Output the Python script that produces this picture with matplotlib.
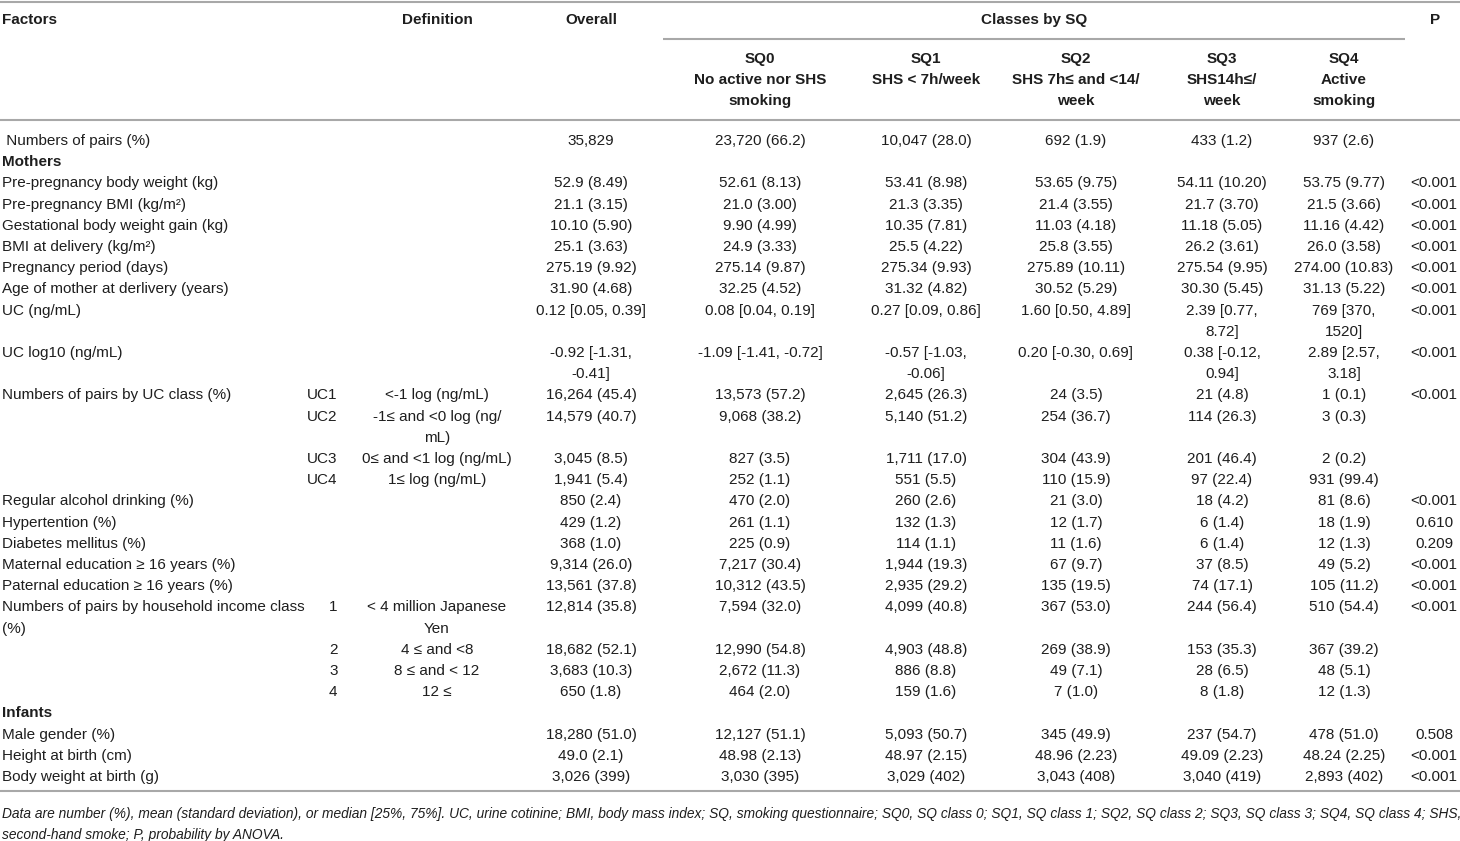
import matplotlib
matplotlib.use("Agg")
import matplotlib.pyplot as plt
from matplotlib import font_manager

# ---------------- data ----------------
header_top = ["Factors", "Definition", "Overall", "Classes by SQ", "P"]
sq_headers = ["SQ0\nNo active nor SHS\nsmoking", "SQ1\nSHS < 7h/week\n",
              "SQ2\nSHS 7h\u2264 and <14/\nweek", "SQ3\nSHS14h\u2264/\nweek",
              "SQ4\nActive\nsmoking"]

factors = [" Numbers of pairs (%)", "Mothers", "Pre-pregnancy body weight (kg)",
           "Pre-pregnancy BMI (kg/m\u00b2)", "Gestational body weight gain (kg)",
           "BMI at delivery (kg/m\u00b2)", "Pregnancy period (days)",
           "Age of mother at derlivery (years)", "UC (ng/mL)", "UC log10 (ng/mL)",
           "Numbers of pairs by UC class (%)", "", "", "",
           "Regular alcohol drinking (%)", "Hypertention (%)", "Diabetes mellitus (%)",
           "Maternal education \u2265 16 years (%)", "Paternal education \u2265 16 years (%)",
           "Numbers of pairs by household income class\n(%)", "", "", "",
           "Infants", "Male gender (%)", "Height at birth (cm)", "Body weight at birth (g)"]
section_rows = ["Mothers", "Infants"]

index_labels = ["", "", "", "", "", "", "", "", "", "",
                "UC1", "UC2", "UC3", "UC4", "", "", "", "", "",
                "1", "2", "3", "4", "", "", "", ""]
definitions = ["", "", "", "", "", "", "", "", "", "",
               "<-1 log (ng/mL)", "-1\u2264 and <0 log (ng/\nmL)", "0\u2264 and <1 log (ng/mL)",
               "1\u2264 log (ng/mL)", "", "", "", "", "",
               "< 4 million Japanese\nYen", "4 \u2264 and <8", "8 \u2264 and < 12", "12 \u2264",
               "", "", "", ""]
overall = ["35,829", "", "52.9 (8.49)", "21.1 (3.15)", "10.10 (5.90)", "25.1 (3.63)",
           "275.19 (9.92)", "31.90 (4.68)", "0.12 [0.05, 0.39]", "-0.92 [-1.31,\n-0.41]",
           "16,264 (45.4)", "14,579 (40.7)", "3,045 (8.5)", "1,941 (5.4)",
           "850 (2.4)", "429 (1.2)", "368 (1.0)", "9,314 (26.0)", "13,561 (37.8)",
           "12,814 (35.8)", "18,682 (52.1)", "3,683 (10.3)", "650 (1.8)",
           "", "18,280 (51.0)", "49.0 (2.1)", "3,026 (399)"]
sq0 = ["23,720 (66.2)", "", "52.61 (8.13)", "21.0 (3.00)", "9.90 (4.99)", "24.9 (3.33)",
       "275.14 (9.87)", "32.25 (4.52)", "0.08 [0.04, 0.19]", "-1.09 [-1.41, -0.72]",
       "13,573 (57.2)", "9,068 (38.2)", "827 (3.5)", "252 (1.1)",
       "470 (2.0)", "261 (1.1)", "225 (0.9)", "7,217 (30.4)", "10,312 (43.5)",
       "7,594 (32.0)", "12,990 (54.8)", "2,672 (11.3)", "464 (2.0)",
       "", "12,127 (51.1)", "48.98 (2.13)", "3,030 (395)"]
sq1 = ["10,047 (28.0)", "", "53.41 (8.98)", "21.3 (3.35)", "10.35 (7.81)", "25.5 (4.22)",
       "275.34 (9.93)", "31.32 (4.82)", "0.27 [0.09, 0.86]", "-0.57 [-1.03,\n-0.06]",
       "2,645 (26.3)", "5,140 (51.2)", "1,711 (17.0)", "551 (5.5)",
       "260 (2.6)", "132 (1.3)", "114 (1.1)", "1,944 (19.3)", "2,935 (29.2)",
       "4,099 (40.8)", "4,903 (48.8)", "886 (8.8)", "159 (1.6)",
       "", "5,093 (50.7)", "48.97 (2.15)", "3,029 (402)"]
sq2 = ["692 (1.9)", "", "53.65 (9.75)", "21.4 (3.55)", "11.03 (4.18)", "25.8 (3.55)",
       "275.89 (10.11)", "30.52 (5.29)", "1.60 [0.50, 4.89]", "0.20 [-0.30, 0.69]",
       "24 (3.5)", "254 (36.7)", "304 (43.9)", "110 (15.9)",
       "21 (3.0)", "12 (1.7)", "11 (1.6)", "67 (9.7)", "135 (19.5)",
       "367 (53.0)", "269 (38.9)", "49 (7.1)", "7 (1.0)",
       "", "345 (49.9)", "48.96 (2.23)", "3,043 (408)"]
sq3 = ["433 (1.2)", "", "54.11 (10.20)", "21.7 (3.70)", "11.18 (5.05)", "26.2 (3.61)",
       "275.54 (9.95)", "30.30 (5.45)", "2.39 [0.77,\n8.72]", "0.38 [-0.12,\n0.94]",
       "21 (4.8)", "114 (26.3)", "201 (46.4)", "97 (22.4)",
       "18 (4.2)", "6 (1.4)", "6 (1.4)", "37 (8.5)", "74 (17.1)",
       "244 (56.4)", "153 (35.3)", "28 (6.5)", "8 (1.8)",
       "", "237 (54.7)", "49.09 (2.23)", "3,040 (419)"]
sq4 = ["937 (2.6)", "", "53.75 (9.77)", "21.5 (3.66)", "11.16 (4.42)", "26.0 (3.58)",
       "274.00 (10.83)", "31.13 (5.22)", "769 [370,\n1520]", "2.89 [2.57,\n3.18]",
       "1 (0.1)", "3 (0.3)", "2 (0.2)", "931 (99.4)",
       "81 (8.6)", "18 (1.9)", "12 (1.3)", "49 (5.2)", "105 (11.2)",
       "510 (54.4)", "367 (39.2)", "48 (5.1)", "12 (1.3)",
       "", "478 (51.0)", "48.24 (2.25)", "2,893 (402)"]
p_values = ["", "", "<0.001", "<0.001", "<0.001", "<0.001", "<0.001", "<0.001",
            "<0.001", "<0.001", "<0.001", "", "", "", "<0.001", "0.610", "0.209",
            "<0.001", "<0.001", "<0.001", "", "", "", "", "0.508", "<0.001", "<0.001"]

footnote = ["Data are number (%), mean (standard deviation), or median [25%, 75%]. UC, urine cotinine; "
            "BMI, body mass index; SQ, smoking questionnaire; SQ0, SQ class 0; SQ1, SQ class 1; "
            "SQ2, SQ class 2; SQ3, SQ class 3; SQ4, SQ class 4; SHS,",
            "second-hand smoke; P, probability by ANOVA."]

# ---------------- style / layout ----------------
names = {f.name for f in font_manager.fontManager.ttflist}
FONT = "Liberation Sans Narrow" if "Liberation Sans Narrow" in names else "Liberation Sans"
FS = 11.0 if FONT == "Liberation Sans" else 12.5
plt.rcParams["font.family"] = [FONT, "DejaVu Sans"]
TXT = "#1e1e1e"
LINE = "#a8a8a8"

W, H = 1460, 841
fig = plt.figure(figsize=(W / 100, H / 100), dpi=100)
ax = fig.add_axes([0, 0, 1, 1])
ax.set_xlim(0, W)
ax.set_ylim(H, 0)
ax.axis("off")

x_factor = 2
x_index = 307
x_def = 437
x_cols = [591, 760, 926, 1076, 1222, 1344]
x_p = 1434
pitch = 21.2
y_head = 20
y_sub0 = 59
y_first = 141

def put(x, y, s, ha="center", **kw):
    for k, line in enumerate(s.split("\n")):
        if line:
            ax.text(x, y + k * pitch, line, ha=ha, va="center", fontsize=FS,
                    color=TXT, **kw)

# header
put(x_factor, y_head, header_top[0], ha="left", fontweight="bold")
put(x_def, y_head, header_top[1], fontweight="bold")
put(x_cols[0], y_head, header_top[2], fontweight="bold")
put((663 + 1405) / 2, y_head, header_top[3], fontweight="bold")
put(1435, y_head, header_top[4], fontweight="bold")
for xc, h in zip(x_cols[1:], sq_headers):
    for k, line in enumerate(h.split("\n")):
        if line:
            ax.text(xc, y_sub0 + k * 21, line, ha="center", va="center",
                    fontsize=FS, color=TXT, fontweight="bold")

# rules
ax.plot([0, W], [1.5, 1.5], color=LINE, lw=1.5, solid_capstyle="butt")
ax.plot([663, 1405], [39, 39], color=LINE, lw=1.5, solid_capstyle="butt")
ax.plot([0, W], [120, 120], color=LINE, lw=1.5, solid_capstyle="butt")
ax.plot([0, W], [791, 791], color=LINE, lw=1.5, solid_capstyle="butt")

# body
y = y_first
for i in range(len(factors)):
    cells = [factors[i], index_labels[i], definitions[i], overall[i], sq0[i], sq1[i],
             sq2[i], sq3[i], sq4[i], p_values[i]]
    nlines = max(c.count("\n") + 1 for c in cells)
    if factors[i] in section_rows:
        put(x_factor, y, factors[i], ha="left", fontweight="bold")
    else:
        put(x_factor, y, factors[i], ha="left")
    idx = index_labels[i]
    put(x_index if idx.startswith("UC") else 329, y, idx, ha="left")
    put(x_def, y, definitions[i])
    for xc, col in zip(x_cols, [overall, sq0, sq1, sq2, sq3, sq4]):
        put(xc, y, col[i])
    put(x_p, y, p_values[i])
    y += nlines * pitch

# footnote: shrink the italic font so the first line spans the page width
fn_size = FS
fn_texts = []
for k, line in enumerate(footnote):
    fn_texts.append(ax.text(2, 814 + k * 21, line, ha="left", va="center",
                            fontsize=fn_size, color=TXT, style="italic"))
fig.canvas.draw()
renderer = fig.canvas.get_renderer()
w0 = fn_texts[0].get_window_extent(renderer).width
fn_size = fn_size * 1455.0 / w0
for t in fn_texts:
    t.set_fontsize(fn_size)

fig.savefig("out.png", dpi=100)
